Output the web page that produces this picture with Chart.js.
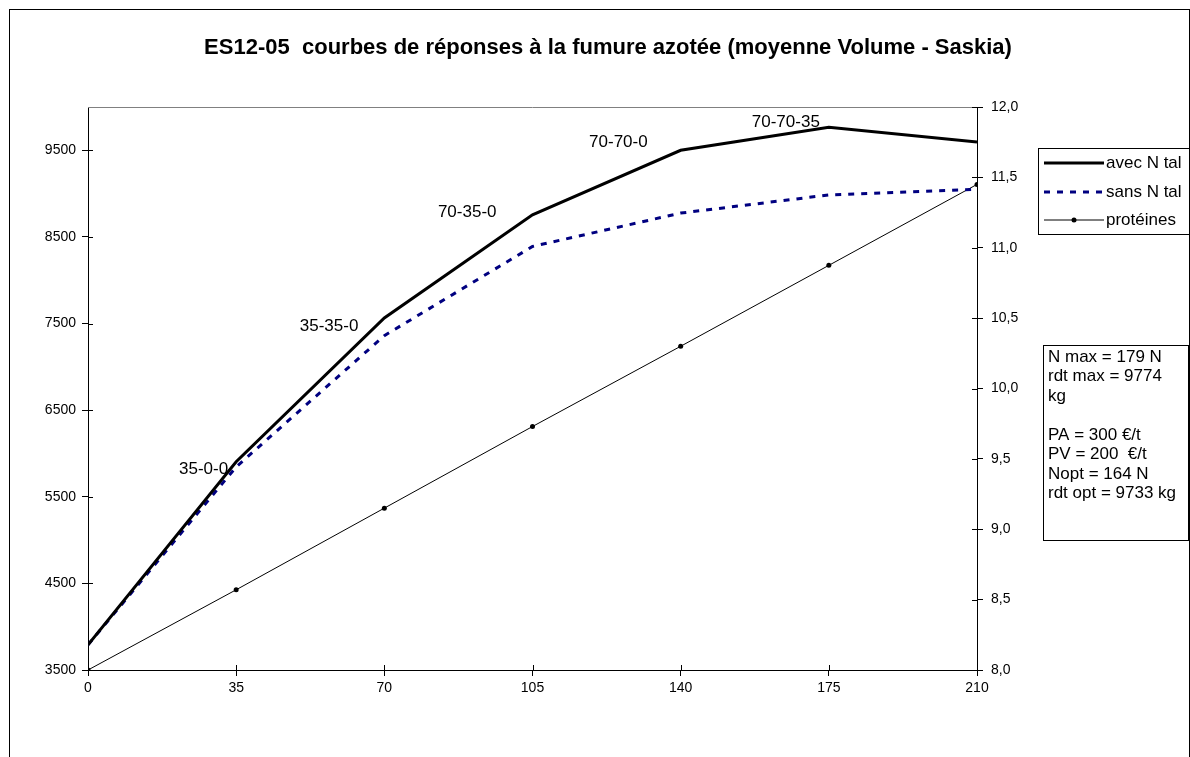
<!DOCTYPE html>
<html>
<head>
<meta charset="utf-8">
<script src="https://cdn.jsdelivr.net/npm/chart.js@4/dist/chart.umd.min.js"></script>
<style>
  body { margin: 0; background: #fff; }
  canvas { display: block; }
</style>
</head>
<body>
<canvas id="chart" width="1190" height="757"></canvas>
<script>
// values
const doses = [0, 35, 70, 105, 140, 175, 210];
const avecNtal = [3790, 5905, 7565, 8755, 9500, 9765, 9595];
const sansNtal = [3790, 5845, 7360, 8390, 8775, 8985, 9050];
const proteines = [8.0, 8.57, 9.15, 9.73, 10.3, 10.875, 11.45];
const pointLabels = ['', '35-0-0', '35-35-0', '70-35-0', '70-70-0', '70-70-35', ''];

const leftTicks = [3500, 4500, 5500, 6500, 7500, 8500, 9500];
const rightTicks = [8.0, 8.5, 9.0, 9.5, 10.0, 10.5, 11.0, 11.5, 12.0];
const xTicks = [0, 35, 70, 105, 140, 175, 210];

const title = 'ES12-05  courbes de réponses à la fumure azotée (moyenne Volume - Saskia)';
const infoLines = [
  'N max = 179 N',
  'rdt max = 9774',
  'kg',
  '',
  'PA = 300 €/t',
  'PV = 200  €/t',
  'Nopt = 164 N',
  'rdt opt = 9733 kg'
];

// the labels were dragged by hand in the original, so each one gets its own nudge (px)
const labelNudge = [null, [-8, 8], [-26, 8], [-36, -3], [-33, -8], [-9, -5], null];

const FONT = "'Liberation Sans', Arial, sans-serif";
const TICK_FONT = { family: FONT, size: 14 };

const toPoints = (ys) => doses.map((x, i) => ({ x: x, y: ys[i] }));
const fixTicks = (list) => (scale) => { scale.ticks = list.map(v => ({ value: v })); };

// frame, title, gray top border, cross ticks, labels, legend, info box
const decorPlugin = {
  id: 'decor',
  beforeDraw(chart) {
    const ctx = chart.ctx;
    ctx.save();
    ctx.fillStyle = '#fff';
    ctx.fillRect(0, 0, chart.width, chart.height);
    ctx.strokeStyle = '#000';
    ctx.lineWidth = 1;
    ctx.strokeRect(9.5, 9.5, 1180, 800);
    ctx.fillStyle = '#000';
    ctx.font = 'bold 22px ' + FONT;
    ctx.textAlign = 'center';
    ctx.textBaseline = 'middle';
    ctx.fillText(title, 608, 48);
    ctx.restore();
  },
  beforeDatasetsDraw(chart) {
    const ctx = chart.ctx;
    const a = chart.chartArea;
    const s = chart.scales;
    ctx.save();
    ctx.strokeStyle = '#808080';
    ctx.lineWidth = 1;
    ctx.beginPath();
    ctx.moveTo(a.left, a.top + 0.5);
    ctx.lineTo(a.right, a.top + 0.5);
    ctx.stroke();
    ctx.strokeStyle = '#000';
    ctx.beginPath();
    leftTicks.forEach(v => {
      const y = Math.round(s.y.getPixelForValue(v)) + 0.5;
      ctx.moveTo(a.left, y); ctx.lineTo(a.left + 5, y);
    });
    rightTicks.forEach(v => {
      const y = Math.round(s.y1.getPixelForValue(v)) + 0.5;
      ctx.moveTo(a.right - 5, y); ctx.lineTo(a.right, y);
    });
    xTicks.forEach(v => {
      const x = Math.round(s.x.getPixelForValue(v)) + 0.5;
      ctx.moveTo(x, a.bottom); ctx.lineTo(x, a.bottom - 5);
    });
    ctx.stroke();
    ctx.restore();
  },
  afterDatasetsDraw(chart) {
    const ctx = chart.ctx;
    const meta = chart.getDatasetMeta(0);
    ctx.save();
    ctx.fillStyle = '#000';
    ctx.font = '17px ' + FONT;
    ctx.textAlign = 'right';
    ctx.textBaseline = 'middle';
    pointLabels.forEach((lab, i) => {
      if (!lab) return;
      const p = meta.data[i];
      const n = labelNudge[i] || [-8, 0];
      ctx.fillText(lab, p.x + n[0], p.y + n[1]);
    });
    ctx.restore();
  },
  afterDraw(chart) {
    const ctx = chart.ctx;
    ctx.save();
    // legend
    ctx.strokeStyle = '#000';
    ctx.lineWidth = 1;
    ctx.fillStyle = '#fff';
    ctx.fillRect(1038.5, 148.5, 151, 86);
    ctx.strokeRect(1038.5, 148.5, 151, 86);
    ctx.font = '17px ' + FONT;
    ctx.textBaseline = 'middle';
    ctx.textAlign = 'left';
    const rows = [163, 192, 220];
    chart.data.datasets.forEach((ds, i) => {
      const y = rows[i];
      ctx.save();
      ctx.strokeStyle = ds.borderColor;
      ctx.lineWidth = ds.borderWidth;
      ctx.setLineDash(ds.borderDash || []);
      ctx.beginPath();
      ctx.moveTo(1044, y);
      ctx.lineTo(1104, y);
      ctx.stroke();
      if (ds.pointRadius > 0) {
        ctx.fillStyle = ds.pointBackgroundColor;
        ctx.beginPath();
        ctx.arc(1074, y, ds.pointRadius, 0, Math.PI * 2);
        ctx.fill();
      }
      ctx.restore();
      ctx.fillStyle = '#000';
      ctx.fillText(ds.label, 1106, y);
    });
    // info box
    ctx.fillStyle = '#fff';
    ctx.fillRect(1043.5, 345.5, 145, 195);
    ctx.strokeRect(1043.5, 345.5, 145, 195);
    ctx.fillStyle = '#000';
    ctx.font = '17px ' + FONT;
    infoLines.forEach((line, i) => {
      ctx.fillText(line, 1048, 357 + i * 19.5);
    });
    ctx.restore();
  }
};

new Chart(document.getElementById('chart'), {
  type: 'line',
  data: {
    datasets: [
      {
        label: 'avec N tal',
        data: toPoints(avecNtal),
        borderColor: '#000000',
        borderWidth: 3,
        pointRadius: 0,
        yAxisID: 'y'
      },
      {
        label: 'sans N tal',
        data: toPoints(sansNtal),
        borderColor: '#000080',
        borderWidth: 3,
        borderDash: [6, 7],
        pointRadius: 0,
        yAxisID: 'y'
      },
      {
        label: 'protéines',
        data: toPoints(proteines),
        borderColor: '#000000',
        borderWidth: 1,
        pointRadius: 2.5,
        pointBackgroundColor: '#000000',
        pointBorderWidth: 0,
        yAxisID: 'y1'
      }
    ]
  },
  options: {
    responsive: false,
    animation: false,
    devicePixelRatio: 1,
    layout: { padding: { top: 107, left: 0, right: 0, bottom: 0 } },
    elements: { line: { tension: 0 } },
    plugins: {
      legend: { display: false },
      tooltip: { enabled: false }
    },
    scales: {
      x: {
        type: 'linear',
        min: 0,
        max: 210,
        afterBuildTicks: fixTicks(xTicks),
        afterFit: (scale) => { scale.height = 87; },
        grid: { drawOnChartArea: false, tickLength: 6, color: '#000' },
        border: { color: '#000', width: 1 },
        ticks: { color: '#000', padding: 4, font: TICK_FONT, maxRotation: 0, callback: (v) => String(v) }
      },
      y: {
        type: 'linear',
        position: 'left',
        min: 3500,
        max: 10000,
        afterBuildTicks: fixTicks(leftTicks),
        afterFit: (scale) => { scale.width = 88; },
        grid: { drawOnChartArea: false, tickLength: 6, color: '#000' },
        border: { color: '#000', width: 1 },
        ticks: { color: '#000', padding: 6, font: TICK_FONT, callback: (v) => String(v) }
      },
      y1: {
        type: 'linear',
        position: 'right',
        min: 8,
        max: 12,
        afterBuildTicks: fixTicks(rightTicks),
        afterFit: (scale) => { scale.width = 213; },
        grid: { drawOnChartArea: false, tickLength: 6, color: '#000' },
        border: { color: '#000', width: 1 },
        ticks: {
          color: '#000',
          padding: 8,
          font: TICK_FONT,
          callback: (v) => Number(v).toFixed(1).replace('.', ',')
        }
      }
    }
  },
  plugins: [decorPlugin]
});
</script>
</body>
</html>
